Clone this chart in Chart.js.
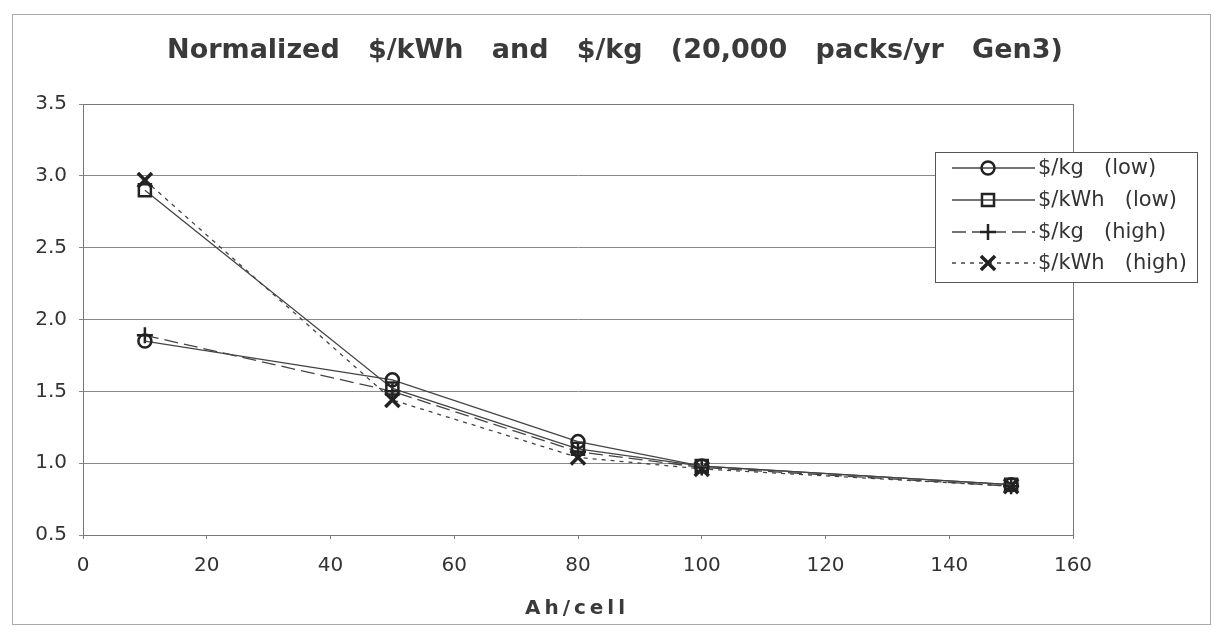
<!DOCTYPE html>
<html lang="en">
<head>
<meta charset="UTF-8">
<title>Normalized $/kWh and $/kg</title>
<script src="https://cdn.jsdelivr.net/npm/chart.js"></script>
<style>
    html, body { margin: 0; padding: 0; background: #fff; }
    #wrap { width: 1219px; height: 633px; }
</style>
</head>
<body>
<div id="wrap"><canvas id="costChart" width="1219" height="633"></canvas></div>
<script>
// values
const ahPerCell = [10, 50, 80, 100, 150];
const kgLow = [1.85, 1.58, 1.15, 0.98, 0.85];
const kwhLow = [2.90, 1.52, 1.10, 0.98, 0.85];
const kgHigh = [1.89, 1.50, 1.08, 0.97, 0.84];
const kwhHigh = [2.97, 1.44, 1.04, 0.96, 0.84];
const seriesNames = ['$/kg   (low)', '$/kWh   (low)', '$/kg   (high)', '$/kWh   (high)'];
const xTicks = [0, 20, 40, 60, 80, 100, 120, 140, 160];
const yTicks = [0.5, 1.0, 1.5, 2.0, 2.5, 3.0, 3.5];

const chartTitle = 'Normalized   $/kWh   and   $/kg   (20,000   packs/yr   Gen3)';
const xTitle = 'Ah/cell';

Chart.defaults.font.family = "'DejaVu Sans', Arial, sans-serif";
Chart.defaults.color = '#333';

function toPoints(values) {
    return ahPerCell.map((x, i) => ({ x: x, y: values[i] }));
}

const lineColor = '#444';
const markColor = '#222';

const datasets = [
    { label: seriesNames[0], data: toPoints(kgLow), pointStyle: 'circle', pointRadius: 6.5, pointBorderWidth: 2.5, borderDash: [] },
    { label: seriesNames[1], data: toPoints(kwhLow), pointStyle: 'rect', pointRadius: 8.5, pointBorderWidth: 2.5, borderDash: [] },
    { label: seriesNames[2], data: toPoints(kgHigh), pointStyle: 'cross', pointRadius: 8, pointBorderWidth: 2.5, borderDash: [14, 6] },
    { label: seriesNames[3], data: toPoints(kwhHigh), pointStyle: 'crossRot', pointRadius: 10, pointBorderWidth: 3.5, borderDash: [4, 5] }
].map(ds => Object.assign(ds, {
    borderColor: lineColor,
    borderWidth: 1.3,
    pointBorderColor: markColor,
    pointBackgroundColor: 'rgba(0,0,0,0)',
    fill: false,
    tension: 0
}));

// frame, plot border, title, axis title and the boxed legend
const decorPlugin = {
    id: 'decor',
    beforeDraw(chart) {
        const ctx = chart.ctx;
        ctx.save();
        ctx.fillStyle = '#fff';
        ctx.fillRect(0, 0, chart.width, chart.height);
        ctx.strokeStyle = '#aaa';
        ctx.lineWidth = 1;
        ctx.strokeRect(12.5, 14.5, 1198, 610);
        ctx.restore();
    },
    afterDraw(chart) {
        const ctx = chart.ctx;
        const area = chart.chartArea;
        ctx.save();
        ctx.strokeStyle = '#777';
        ctx.lineWidth = 1;
        ctx.strokeRect(area.left + 0.5, area.top + 0.5, area.right - area.left, area.bottom - area.top);

        ctx.fillStyle = '#3a3a3a';
        ctx.font = "bold 27px 'DejaVu Sans', Arial, sans-serif";
        ctx.textAlign = 'center';
        ctx.textBaseline = 'alphabetic';
        ctx.fillText(chartTitle, 615, 58);

        ctx.font = "bold 20px 'DejaVu Sans', Arial, sans-serif";
        ctx.letterSpacing = '4px';
        ctx.textBaseline = 'middle';
        ctx.fillText(xTitle, 577, 609);
        ctx.letterSpacing = '0px';

        // legend box
        const box = { x: 935, y: 152, w: 262, h: 130 };
        const rows = [168, 200, 232, 263];
        ctx.fillStyle = '#fff';
        ctx.fillRect(box.x, box.y, box.w, box.h);
        ctx.strokeStyle = '#555';
        ctx.strokeRect(box.x + 0.5, box.y + 0.5, box.w, box.h);
        chart.data.datasets.forEach((ds, i) => {
            const y = rows[i];
            ctx.strokeStyle = ds.borderColor;
            ctx.lineWidth = ds.borderWidth;
            ctx.setLineDash(ds.borderDash);
            ctx.beginPath();
            ctx.moveTo(952, y);
            ctx.lineTo(1035, y);
            ctx.stroke();
            ctx.setLineDash([]);
            ctx.strokeStyle = ds.pointBorderColor;
            ctx.fillStyle = ds.pointBackgroundColor;
            ctx.lineWidth = ds.pointBorderWidth;
            Chart.helpers.drawPoint(ctx, {
                pointStyle: ds.pointStyle,
                radius: ds.pointRadius,
                rotation: 0,
                borderWidth: ds.pointBorderWidth
            }, 988, y);
            ctx.fillStyle = '#333';
            ctx.font = "21px 'DejaVu Sans', Arial, sans-serif";
            ctx.textAlign = 'left';
            ctx.textBaseline = 'middle';
            ctx.fillText(ds.label, 1038, y + 1);
        });
        ctx.restore();
    }
};

const ctx = document.getElementById('costChart').getContext('2d');
const costChart = new Chart(ctx, {
    type: 'line',
    data: { datasets: datasets },
    plugins: [decorPlugin],
    options: {
        responsive: false,
        animation: false,
        layout: { padding: { top: 104, right: 146, bottom: 0, left: 0 } },
        plugins: {
            legend: { display: false },
            title: { display: false },
            tooltip: { enabled: false }
        },
        scales: {
            x: {
                type: 'linear',
                min: xTicks[0],
                max: xTicks[xTicks.length - 1],
                afterBuildTicks: scale => { scale.ticks = xTicks.map(v => ({ value: v })); },
                afterFit: scale => { scale.height = 98; },
                grid: { drawOnChartArea: false, drawTicks: true, tickLength: 4, color: '#777' },
                border: { color: '#777' },
                ticks: { font: { size: 20 }, padding: 15, color: '#333', maxRotation: 0 }
            },
            y: {
                type: 'linear',
                min: yTicks[0],
                max: yTicks[yTicks.length - 1],
                afterBuildTicks: scale => { scale.ticks = yTicks.map(v => ({ value: v })); },
                afterFit: scale => { scale.width = 83; },
                grid: { color: '#888', lineWidth: 1, tickLength: 4 },
                border: { color: '#777' },
                ticks: { font: { size: 20 }, padding: 12, color: '#333', callback: v => v.toFixed(1) }
            }
        }
    }
});
</script>
</body>
</html>
